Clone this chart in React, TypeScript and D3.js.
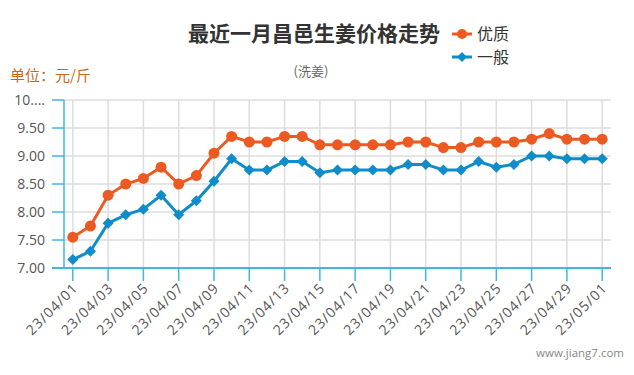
import React from "react";
import * as d3 from "d3";

const dates = [
  "23/04/01","23/04/02","23/04/03","23/04/04","23/04/05","23/04/06","23/04/07","23/04/08",
  "23/04/09","23/04/10","23/04/11","23/04/12","23/04/13","23/04/14","23/04/15","23/04/16",
  "23/04/17","23/04/18","23/04/19","23/04/20","23/04/21","23/04/22","23/04/23","23/04/24",
  "23/04/25","23/04/26","23/04/27","23/04/28","23/04/29","23/04/30","23/05/01",
];
const premium = [
  7.55, 7.75, 8.3, 8.5, 8.6, 8.8, 8.5, 8.65, 9.05, 9.35, 9.25, 9.25, 9.35, 9.35, 9.2, 9.2,
  9.2, 9.2, 9.2, 9.25, 9.25, 9.15, 9.15, 9.25, 9.25, 9.25, 9.3, 9.4, 9.3, 9.3, 9.3,
];
const normal = [
  7.15, 7.3, 7.8, 7.95, 8.05, 8.3, 7.95, 8.2, 8.55, 8.95, 8.75, 8.75, 8.9, 8.9, 8.7, 8.75,
  8.75, 8.75, 8.75, 8.85, 8.85, 8.75, 8.75, 8.9, 8.8, 8.85, 9.0, 9.0, 8.95, 8.95, 8.95,
];
const yTicks = [7, 7.5, 8, 8.5, 9, 9.5, 10];
const yTickLabels = ["7.00", "7.50", "8.00", "8.50", "9.00", "9.50", "10...."];
const seriesNames = ["优质", "一般"];

const ORANGE = "#ec5a22";
const BLUE = "#0f8dc8";
const AXIS = "#3fb6e6";
const GRID = "#dddddd";
const NUMFONT = "'Open Sans', 'Noto Sans', sans-serif";
const CJK = "'Noto Sans CJK SC', sans-serif";

export default function App() {
  const left = 64, right = 611, top = 100, bottom = 268;
  const x = d3.scalePoint<string>().domain(dates).range([left, right]).padding(0.5);
  const y = d3.scaleLinear().domain([7, 10]).range([bottom, top]);
  const line = d3.line<number>().x((_, i) => x(dates[i])!).y((v) => y(v));
  const labeled = dates.filter((_, i) => i % 2 === 0);
  const diamond = (cx: number, cy: number, r: number) =>
    `M${cx},${cy - r}L${cx + r},${cy}L${cx},${cy + r}L${cx - r},${cy}Z`;

  return (
    <svg width={634} height={375} style={{ position: "absolute", left: 0, top: 0 }}>
      <rect width={634} height={375} fill="#fff" />
      {yTicks.map((t) => (
        <line key={"h" + t} x1={left} x2={right} y1={y(t)} y2={y(t)} stroke={GRID} strokeWidth={1.5} />
      ))}
      {labeled.map((d) => (
        <line key={"v" + d} x1={x(d)} x2={x(d)} y1={top} y2={bottom} stroke={GRID} strokeWidth={1.5} />
      ))}
      <line x1={left} x2={left} y1={top} y2={bottom} stroke={AXIS} strokeWidth={1.5} />
      {yTicks.map((t, i) => (
        <g key={"yt" + t}>
          <line x1={left - 12} x2={left} y1={y(t)} y2={y(t)} stroke={AXIS} strokeWidth={1.5} />
          <text x={45} y={y(t)} dy="0.35em" textAnchor="end" fontSize={14} fill="#555" fontFamily={NUMFONT}>
            {yTickLabels[i]}
          </text>
        </g>
      ))}
      <line x1={left - 12} x2={right} y1={bottom} y2={bottom} stroke={AXIS} strokeWidth={2} />
      {labeled.map((d) => (
        <g key={"xt" + d} transform={`translate(${x(d)},${bottom})`}>
          <line y1={0} y2={13} stroke={AXIS} strokeWidth={1.5} />
          <text
            transform="translate(6,21) rotate(-45)"
            textAnchor="end"
            fontSize={14}
            letterSpacing={1}
            fill="#555"
            fontFamily={NUMFONT}
          >
            {d}
          </text>
        </g>
      ))}
      <path d={line(premium)!} fill="none" stroke={ORANGE} strokeWidth={3} />
      <path d={line(normal)!} fill="none" stroke={BLUE} strokeWidth={3} />
      {premium.map((v, i) => (
        <circle key={"p" + i} cx={x(dates[i])!} cy={y(v)} r={5.5} fill={ORANGE} />
      ))}
      {normal.map((v, i) => (
        <path key={"n" + i} d={diamond(x(dates[i])!, y(v), 5.5)} fill={BLUE} />
      ))}
      <text x={314} y={41} textAnchor="middle" fontSize={21} fontWeight="bold" fill="#333" fontFamily={CJK}>
        最近一月昌邑生姜价格走势
      </text>
      <text x={311} y={76} textAnchor="middle" fontSize={13} fill="#666" fontFamily={CJK}>
        (洗姜)
      </text>
      <text x={10} y={81} fontSize={15} fill="#c8681e" fontFamily={CJK}>
        单位：元/斤
      </text>
      <line x1={452} x2={472} y1={34} y2={34} stroke={ORANGE} strokeWidth={3} />
      <circle cx={462} cy={34} r={5} fill={ORANGE} />
      <text x={477} y={34} dy="0.36em" fontSize={16} fill="#333" fontFamily={CJK}>
        {seriesNames[0]}
      </text>
      <line x1={452} x2={472} y1={57} y2={57} stroke={BLUE} strokeWidth={3} />
      <path d={diamond(462, 57, 5)} fill={BLUE} />
      <text x={477} y={57} dy="0.36em" fontSize={16} fill="#333" fontFamily={CJK}>
        {seriesNames[1]}
      </text>
      <text x={624} y={357} textAnchor="end" fontSize={11.5} fill="#888" fontFamily={NUMFONT}>
        www.jiang7.com
      </text>
    </svg>
  );
}
